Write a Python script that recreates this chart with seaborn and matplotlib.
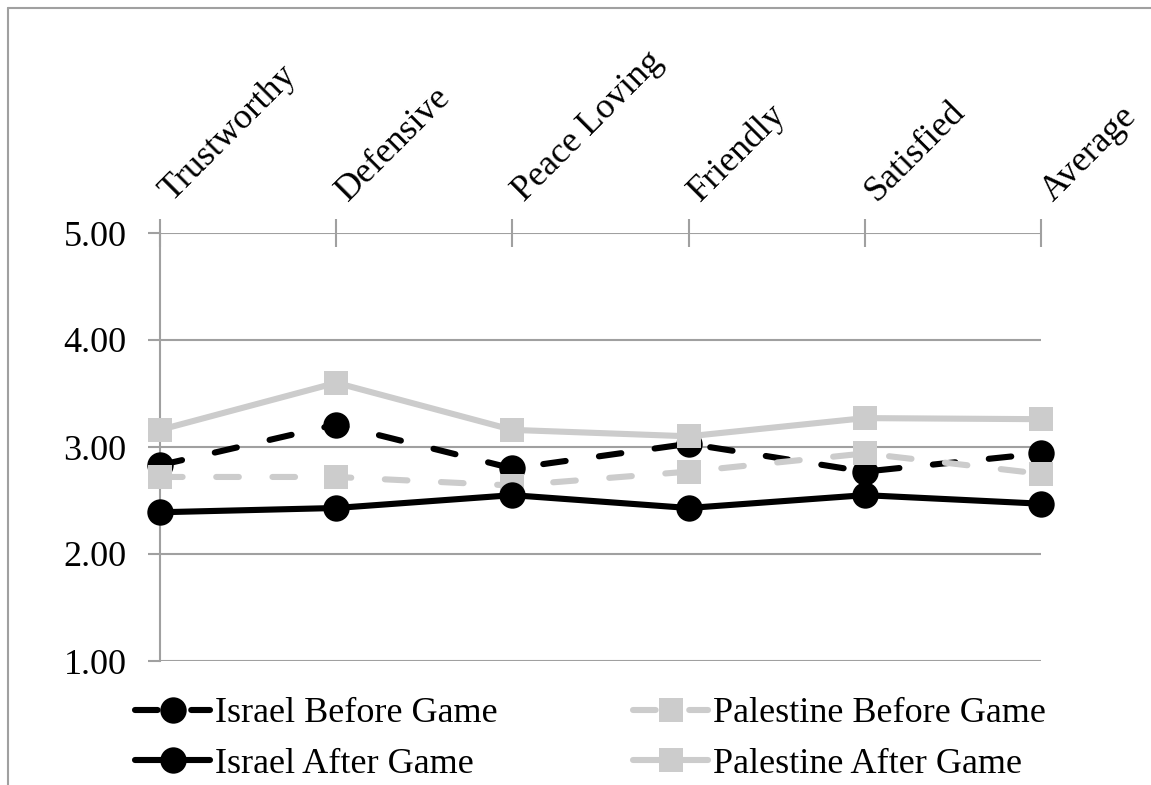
import matplotlib
matplotlib.use("Agg")
import matplotlib.pyplot as plt
import matplotlib.transforms as mtransforms
from matplotlib.lines import Line2D
import seaborn as sns
import pandas as pd

# Ratings of each trait, per group and timing
categories = ["Trustworthy", "Defensive", "Peace Loving", "Friendly", "Satisfied", "Average"]
israel_before = [2.83, 3.21, 2.80, 3.03, 2.77, 2.94]
palestine_before = [2.72, 2.72, 2.64, 2.77, 2.94, 2.75]
israel_after = [2.39, 2.43, 2.55, 2.43, 2.55, 2.47]
palestine_after = [3.16, 3.60, 3.16, 3.10, 3.27, 3.26]
y_ticks = [1.0, 2.0, 3.0, 4.0, 5.0]

sns.set_theme(style="white")
plt.rcParams["font.family"] = ["Liberation Serif", "DejaVu Serif"]
plt.rcParams["text.color"] = "black"

BLACK = "#000000"
GRAY = "#CCCCCC"
AXIS_GRAY = "#A0A0A0"
LW = 4.4
FS = 26

fig = plt.figure(figsize=(11.51, 7.85), dpi=100)
ax = fig.add_axes([160 / 1151, 1 - 661 / 785, (1041 - 160) / 1151, (661 - 233) / 785])

series = [
    ("Israel Before Game", israel_before, BLACK, "o", 19, (3.7, 5.5)),
    ("Palestine Before Game", palestine_before, GRAY, "s", 17, (3.7, 5.5)),
    ("Israel After Game", israel_after, BLACK, "o", 19, None),
    ("Palestine After Game", palestine_after, GRAY, "s", 17, None),
]

handles = {}
for z, (name, vals, color, marker, ms, dash) in enumerate(series):
    df = pd.DataFrame({"trait": categories, "score": vals})
    kw = dict(color=color, linewidth=LW, marker=marker, markersize=ms,
              markeredgewidth=0, markerfacecolor=color, clip_on=False,
              solid_capstyle="round", dash_capstyle="round", zorder=3 + z)
    sns.lineplot(data=df, x="trait", y="score", sort=False, ax=ax, **kw)
    line = ax.lines[-1]
    if dash is not None:
        line.set_dashes(dash)
    handles[name] = line

ax.set_xlim(0, len(categories) - 1)
ax.set_ylim(1, 5)
ax.set_yticks(y_ticks)
ax.set_yticklabels([f"{v:.2f}" for v in y_ticks])
ax.set_xlabel("")
ax.set_ylabel("")

# Category axis runs along the top
ax.xaxis.tick_top()
ax.set_xticks(range(len(categories)))
ax.set_xticklabels(categories)
ax.tick_params(axis="x", top=True, bottom=False, direction="inout", length=20,
               width=1.5, color=AXIS_GRAY, labelsize=FS, pad=15, labelcolor="black")
shift = mtransforms.ScaledTranslation(12 / 100, -4 / 100, fig.dpi_scale_trans)
for lbl in ax.get_xticklabels():
    lbl.set_rotation(45)
    lbl.set_rotation_mode("anchor")
    lbl.set_ha("left")
    lbl.set_va("baseline")
    lbl.set_transform(lbl.get_transform() + shift)
ax.tick_params(axis="y", left=True, direction="out", length=9, width=1.5,
               color=AXIS_GRAY, labelsize=FS, pad=15, labelcolor="black")

ax.yaxis.grid(True, color=AXIS_GRAY, linewidth=1.5)
ax.xaxis.grid(False)
for side in ["top", "right", "bottom"]:
    ax.spines[side].set_visible(False)
ax.spines["left"].set_color(AXIS_GRAY)
ax.spines["left"].set_linewidth(1.5)

order = ["Israel Before Game", "Israel After Game", "Palestine Before Game", "Palestine After Game"]
leg = fig.legend([handles[n] for n in order], order, ncol=2, loc="upper left",
                 bbox_to_anchor=(135 / 1151, 1 - 697 / 785), frameon=False,
                 fontsize=FS, handlelength=2.08, handletextpad=0.14,
                 columnspacing=3.75, labelspacing=0.48, borderaxespad=0,
                 borderpad=0, labelcolor="black")

# Outer chart border
fig.add_artist(Line2D([8 / 1151, 8 / 1151], [0, 1 - 8 / 785], color=AXIS_GRAY,
                      linewidth=1.5, transform=fig.transFigure))
fig.add_artist(Line2D([8 / 1151, 1], [1 - 8 / 785, 1 - 8 / 785], color=AXIS_GRAY,
                      linewidth=1.5, transform=fig.transFigure))

fig.savefig("out.png", dpi=100)
